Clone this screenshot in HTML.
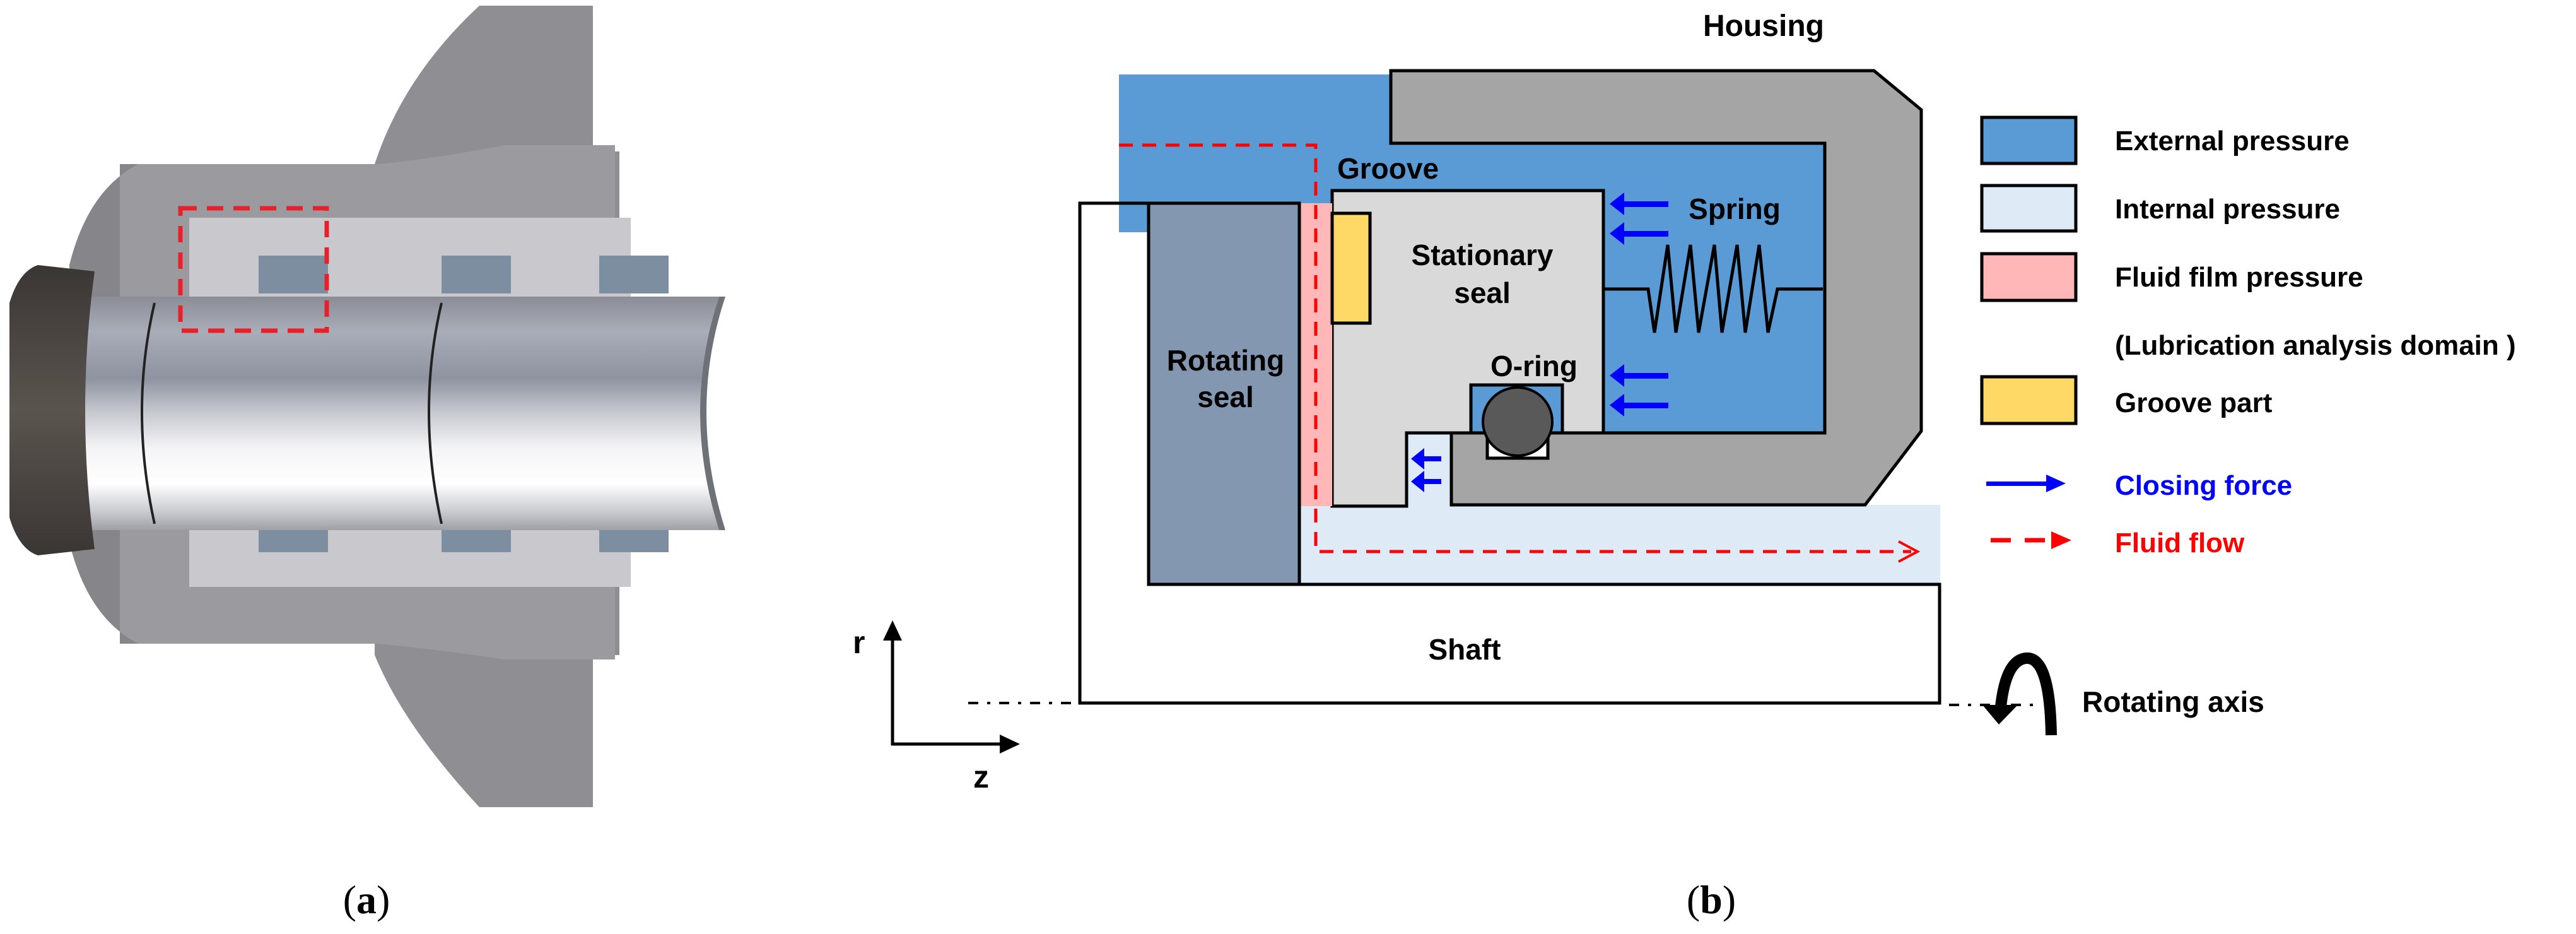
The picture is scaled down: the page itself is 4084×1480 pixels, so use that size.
<!DOCTYPE html>
<html><head><meta charset="utf-8"><style>
html,body{margin:0;padding:0;background:#fff;}
svg{display:block;}
text{font-family:"Liberation Sans",Arial,sans-serif;font-weight:bold;}
</style></head><body>
<svg width="4084" height="1480" viewBox="0 0 4084 1480" xmlns="http://www.w3.org/2000/svg">
<defs>
<linearGradient id="shaftG" x1="0" y1="0" x2="0" y2="1">
<stop offset="0" stop-color="#8a8d96"/><stop offset="0.15" stop-color="#a9adb8"/>
<stop offset="0.35" stop-color="#8e93a0"/><stop offset="0.5" stop-color="#c8cad0"/>
<stop offset="0.65" stop-color="#f4f4f6"/><stop offset="0.8" stop-color="#ffffff"/>
<stop offset="0.92" stop-color="#c9cbd0"/><stop offset="1" stop-color="#9ea0a6"/>
</linearGradient>
<linearGradient id="capG" x1="0" y1="0" x2="0" y2="1">
<stop offset="0" stop-color="#3a3634"/><stop offset="0.5" stop-color="#5a544e"/><stop offset="1" stop-color="#3a3634"/>
</linearGradient>
</defs>

<!-- Panel (a) approximation -->
<path d="M760 9 L940 9 L940 240 L982 240 L982 1038 L940 1038 L940 1279 L760 1279 Q640 1150 594 1038 L594 260 Q640 120 760 9 Z" fill="#8f8f93"/>
<path d="M220 260 L600 260 Q700 250 800 230 L975 230 L975 1045 L800 1045 Q700 1030 600 1020 L220 1020 Q140 980 110 860 L110 420 Q140 300 220 260 Z" fill="#9b9b9f"/>
<path d="M110 420 Q140 300 220 260 L190 260 L190 1020 L220 1020 Q140 980 110 860 Z" fill="#85858a"/>
<rect x="300" y="345" width="700" height="130" fill="#c9c9cd"/>
<rect x="300" y="800" width="700" height="130" fill="#c9c9cd"/>
<rect x="410" y="405" width="110" height="60" fill="#7d8ea0"/>
<rect x="700" y="405" width="110" height="60" fill="#7d8ea0"/>
<rect x="950" y="405" width="110" height="60" fill="#7d8ea0"/>
<rect x="410" y="815" width="110" height="60" fill="#7d8ea0"/>
<rect x="700" y="815" width="110" height="60" fill="#7d8ea0"/>
<rect x="950" y="815" width="110" height="60" fill="#7d8ea0"/>
<path d="M134 470 L1140 470 Q1080 650 1140 840 L134 840 Z" fill="url(#shaftG)"/>
<path d="M1140 470 L1150 470 Q1090 650 1150 840 L1140 840 Q1080 650 1140 470Z" fill="#6f7178"/>
<path d="M60 420 Q30 430 15 480 L15 820 Q30 870 60 880 L150 870 Q120 650 150 430 Z" fill="url(#capG)"/>
<path d="M245 480 Q205 650 245 830" stroke="#222" stroke-width="4" fill="none"/>
<path d="M700 480 Q660 650 700 830" stroke="#222" stroke-width="4" fill="none"/>
<rect x="286" y="330" width="232" height="194" fill="none" stroke="#e8202a" stroke-width="7" stroke-dasharray="26,16"/>

<text x="581" y="1447" font-family="Liberation Serif" font-weight="normal" font-size="64" text-anchor="middle" style="font-family:'Liberation Serif',serif;font-weight:normal">(<tspan font-weight="bold" style="font-weight:bold">a</tspan>)</text>
<text x="2713" y="1447" font-size="64" text-anchor="middle" style="font-family:'Liberation Serif',serif;font-weight:normal">(<tspan style="font-weight:bold">b</tspan>)</text>

<!-- Panel (b) -->
<!-- external pressure blue -->
<rect x="1774" y="118" width="440" height="210" fill="#5b9bd5"/>
<rect x="1774" y="320" width="48" height="48" fill="#5b9bd5"/>
<rect x="2060" y="226" width="834" height="462" fill="#5b9bd5"/>
<!-- internal pressure -->
<rect x="2060" y="800" width="1016" height="124" fill="#deebf7"/>
<rect x="2228" y="683" width="75" height="120" fill="#deebf7"/>
<!-- housing -->
<path d="M2205 112 L2971 112 L3046 174 L3046 683 L2957 800 L2301 800 L2301 686 L2893 686 L2893 227 L2205 227 Z" fill="#a5a5a5" stroke="#000" stroke-width="5" stroke-linejoin="miter"/>
<!-- stationary seal -->
<path d="M2112 302 L2542 302 L2542 686 L2230 686 L2230 802 L2112 802 Z" fill="#d9d9d9" stroke="#000" stroke-width="5"/>
<!-- pink film -->
<rect x="2060" y="322" width="52" height="480" fill="#ffb7b7"/>
<!-- groove -->
<rect x="2112" y="338" width="60" height="174" fill="#ffd966" stroke="#000" stroke-width="5"/>
<!-- rotating seal -->
<rect x="1821" y="322" width="239" height="604" fill="#8497b0" stroke="#000" stroke-width="5"/>
<!-- shaft outline -->
<path d="M1821 322 L1712 322 L1712 1114 L3075 1114 L3075 926 L1821 926" fill="none" stroke="#000" stroke-width="5"/>
<!-- o-ring -->
<rect x="2332" y="610" width="145" height="76" fill="#5b9bd5" stroke="#000" stroke-width="5"/>
<rect x="2358" y="686" width="96" height="40" fill="#fff" stroke="#000" stroke-width="5"/>
<ellipse cx="2406" cy="668" rx="55" ry="54" fill="#595959" stroke="#000" stroke-width="4"/>
<!-- spring -->
<polyline points="2542,458 2613,458 2623,527 2644,388 2657,527 2680,388 2693,527 2718,388 2730,527 2754,388 2767,527 2789,388 2803,527 2818,458 2890,458" fill="none" stroke="#000" stroke-width="5" stroke-linejoin="miter"/>
<!-- blue arrows -->
<g fill="#0000ff">
<rect x="2570" y="319" width="75" height="9"/><polygon points="2552,323 2575,305 2575,341"/>
<rect x="2570" y="366" width="75" height="9"/><polygon points="2552,370 2575,352 2575,388"/>
<rect x="2570" y="591" width="75" height="9"/><polygon points="2552,595 2575,577 2575,613"/>
<rect x="2570" y="638" width="75" height="9"/><polygon points="2552,642 2575,624 2575,660"/>
<rect x="2255" y="723" width="30" height="8"/><polygon points="2237,727 2258,710 2258,744"/>
<rect x="2255" y="759" width="30" height="8"/><polygon points="2237,763 2258,746 2258,780"/>
</g>
<!-- red dashed flow -->
<polyline points="1774,230 2086,230 2086,874 3030,874" fill="none" stroke="#ff0000" stroke-width="5" stroke-dasharray="22,15"/>
<polyline points="3010,858 3040,874 3010,890" fill="none" stroke="#ff0000" stroke-width="4"/>
<!-- axis dash-dot -->
<line x1="1535" y1="1114" x2="1708" y2="1114" stroke="#000" stroke-width="4" stroke-dasharray="16,14,5,14"/>
<line x1="3090" y1="1117" x2="3230" y2="1117" stroke="#000" stroke-width="4" stroke-dasharray="16,14,5,14"/>
<!-- r z axes -->
<line x1="1415" y1="1181" x2="1415" y2="1005" stroke="#000" stroke-width="5"/>
<polygon points="1415,983 1400,1015 1430,1015" fill="#000"/>
<line x1="1413" y1="1179" x2="1590" y2="1179" stroke="#000" stroke-width="5"/>
<polygon points="1617,1179 1585,1164 1585,1194" fill="#000"/>
<text x="1352" y="1035" font-size="50">r</text>
<text x="1543" y="1248" font-size="50">z</text>
<!-- rotating arrow -->
<path d="M3252 1165 Q3250 1040 3212 1043 Q3180 1046 3172 1120" fill="none" stroke="#000" stroke-width="18"/>
<polygon points="3143,1117 3199,1117 3169,1148" fill="#000"/>
<!-- labels -->
<text x="2796" y="57" font-size="48" text-anchor="middle">Housing</text>
<text x="2120" y="283" font-size="46">Groove</text>
<text x="2350" y="420" font-size="46" text-anchor="middle">Stationary</text>
<text x="2350" y="480" font-size="46" text-anchor="middle">seal</text>
<text x="2750" y="347" font-size="46" text-anchor="middle">Spring</text>
<text x="2432" y="596" font-size="46" text-anchor="middle">O-ring</text>
<text x="1943" y="587" font-size="46" text-anchor="middle">Rotating</text>
<text x="1943" y="645" font-size="46" text-anchor="middle">seal</text>
<text x="2322" y="1045" font-size="46" text-anchor="middle">Shaft</text>
<text x="3301" y="1128" font-size="46">Rotating axis</text>
<!-- legend -->
<rect x="3142" y="186" width="149" height="73" fill="#5b9bd5" stroke="#000" stroke-width="5"/>
<rect x="3142" y="294" width="149" height="72" fill="#deebf7" stroke="#000" stroke-width="5"/>
<rect x="3142" y="402" width="149" height="74" fill="#ffb7b7" stroke="#000" stroke-width="5"/>
<rect x="3142" y="597" width="149" height="74" fill="#ffd966" stroke="#000" stroke-width="5"/>
<text x="3353" y="238" font-size="44">External pressure</text>
<text x="3353" y="346" font-size="44">Internal pressure</text>
<text x="3353" y="454" font-size="44">Fluid film  pressure</text>
<text x="3353" y="562" font-size="44">(Lubrication analysis domain )</text>
<text x="3353" y="653" font-size="44">Groove part</text>
<rect x="3149" y="763" width="100" height="7" fill="#0000ff"/>
<polygon points="3275,766 3244,752 3244,780" fill="#0000ff"/>
<text x="3353" y="784" font-size="44" fill="#0000ff">Closing force</text>
<line x1="3156" y1="856" x2="3255" y2="856" stroke="#ff0000" stroke-width="7" stroke-dasharray="32,22"/>
<polygon points="3284,856 3252,842 3252,870" fill="#ff0000"/>
<text x="3353" y="875" font-size="44" fill="#ff0000">Fluid flow</text>
</svg>
</body></html>
